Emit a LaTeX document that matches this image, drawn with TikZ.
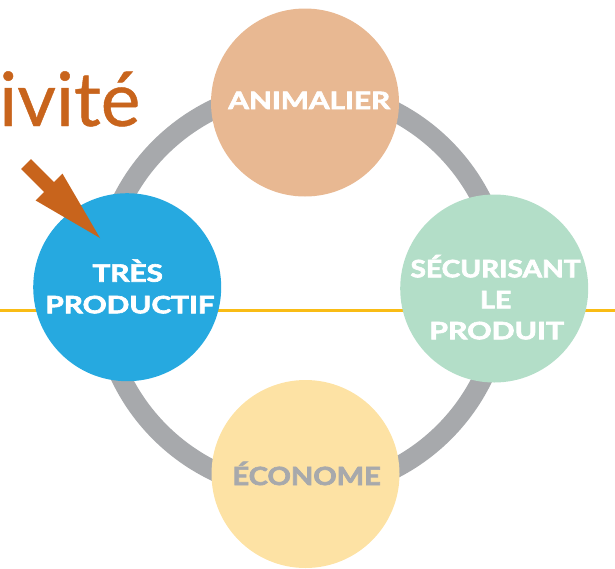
\documentclass[tikz,border=0pt]{standalone}
\usepackage{fontspec}
\setmainfont{Lato}
\newfontfamily\lblfont{Lato}[FakeBold=2.6]
\newfontfamily\ttlfont{Lato}[FakeBold=0.6]
\newcommand\sx[2]{\scalebox{#1}[1]{#2}}
\definecolor{ringgrey}{HTML}{A7A9AC}
\definecolor{peach}{HTML}{E8B892}
\definecolor{skyblue}{HTML}{26A9E0}
\definecolor{mint}{HTML}{B3DEC8}
\definecolor{cream}{HTML}{FDE2A4}
\definecolor{rust}{HTML}{C8641C}
\definecolor{gold}{HTML}{F9BC15}
\begin{document}
\begin{tikzpicture}[x=1pt,y=-1pt,
  lbl/.style={font=\lblfont\bfseries\fontsize{24}{24}\selectfont, text=white, inner sep=0pt, anchor=base},
  bubble/.style={circle, inner sep=0pt, minimum size=188pt}]
\useasboundingbox (0,0) rectangle (615,568);
\clip (0,0) rectangle (615,568);
\coordinate (lineL) at (0,310.5);
\coordinate (lineR) at (615,310.5);
\draw[gold, line width=2.4pt] (lineL) -- (lineR);
\coordinate (ringC) at (302,290);
\draw[ringgrey, line width=20pt] (ringC) circle[radius=201];
\node[bubble, fill=peach] (top) at (305,102.5) {};
\node[bubble, fill=skyblue] (left) at (127.2,287.2) {};
\node[bubble, fill=mint] (right) at (494.2,288.5) {};
\node[bubble, fill=cream] (bottom) at (305.5,474) {};
\node[lbl] (t1) at (309.2,109) {\sx{1.24}{ANIMALIER}};
\node[lbl] (l1) at (127.7,281.7) {\sx{1.24}{TRÈS}};
\node[lbl] (l2) at (130,313.3) {\sx{1.24}{PRODUCTIF}};
\node[lbl] (r1) at (495.5,277.3) {\sx{1.17}{SÉCURISANT}};
\node[lbl] (r2) at (495.7,308.3) {\sx{1.2}{LE}};
\node[lbl] (r3) at (496.7,339.3) {\sx{1.26}{PRODUIT}};
\node[lbl, text=ringgrey, font=\lblfont\bfseries\fontsize{25}{25}\selectfont] (b1) at (306.6,485) {\sx{1.16}{ÉCONOME}};
\node[font=\ttlfont\fontsize{75}{75}\selectfont, text=rust, anchor=base east, inner sep=0pt] (title) at (140.5,126) {ivité};
\coordinate (tip) at (100,238);
\fill[rust] (30.95,159.05) -- (54.05,182.15) -- (62.5,173.7) -- (tip) -- (35.7,200.5) -- (44.15,192.05) -- (21.05,168.95) -- cycle;
\end{tikzpicture}
\end{document}
